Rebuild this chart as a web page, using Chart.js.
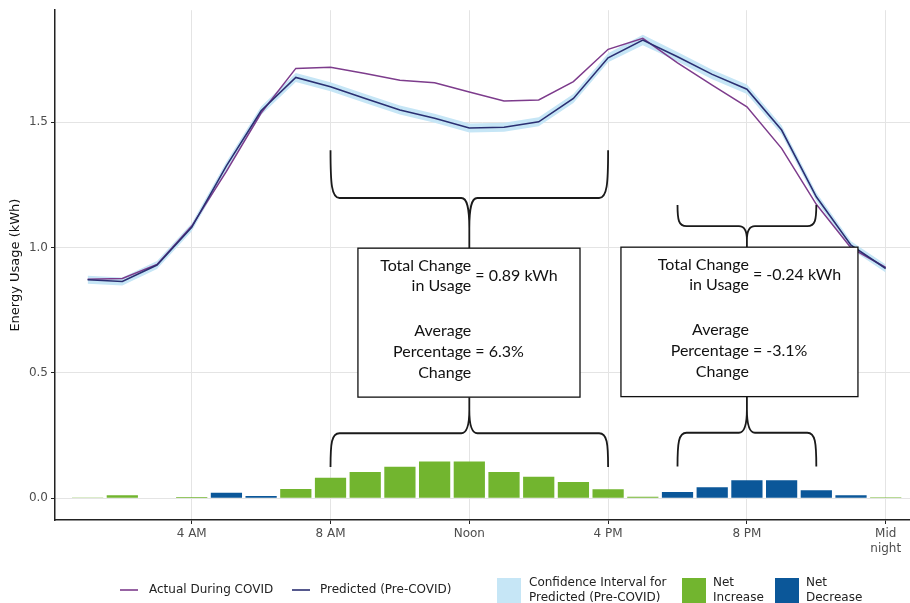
<!DOCTYPE html>
<html>
<head>
<meta charset="utf-8">
<script src="https://cdn.jsdelivr.net/npm/chart.js"></script>
<style>
    html, body { margin: 0; padding: 0; background: #fff; }
    canvas { display: block; }
</style>
</head>
<body>
<canvas id="chart" width="910" height="603"></canvas>
<script>
// hour of day (1 = 1 AM ... 24 = midnight)
const hours = [1, 2, 3, 4, 5, 6, 7, 8, 9, 10, 11, 12, 13, 14, 15, 16, 17, 18, 19, 20, 21, 22, 23, 24];

const actualUsage = [0.873, 0.876, 0.932, 1.085, 1.303, 1.536, 1.714, 1.718, 1.694, 1.667, 1.657, 1.620,
                     1.584, 1.588, 1.661, 1.790, 1.834, 1.736, 1.647, 1.561, 1.395, 1.172, 0.998, 0.920];
const predictedUsage = [0.871, 0.864, 0.930, 1.080, 1.325, 1.545, 1.678, 1.641, 1.594, 1.548, 1.515, 1.476,
                        1.479, 1.501, 1.594, 1.756, 1.827, 1.760, 1.690, 1.631, 1.468, 1.202, 1.009, 0.916];
const ciLower = [0.855, 0.848, 0.914, 1.064, 1.308, 1.528, 1.660, 1.623, 1.576, 1.530, 1.497, 1.458,
                 1.461, 1.483, 1.576, 1.738, 1.806, 1.741, 1.671, 1.612, 1.450, 1.185, 0.993, 0.900];
const ciUpper = [0.887, 0.880, 0.946, 1.096, 1.342, 1.562, 1.696, 1.659, 1.612, 1.566, 1.533, 1.494,
                 1.497, 1.519, 1.612, 1.774, 1.848, 1.779, 1.709, 1.650, 1.486, 1.219, 1.025, 0.932];
// actual minus predicted; positive = net increase
const netChange = [0.003, 0.012, 0.002, 0.005, -0.022, -0.009, 0.037, 0.081, 0.104, 0.125, 0.146, 0.146,
                   0.104, 0.085, 0.065, 0.036, 0.006, -0.025, -0.044, -0.072, -0.072, -0.032, -0.012, 0.004];

const xTickValues = [4, 8, 12, 16, 20, 24];
const xTickLabels = ['4 AM', '8 AM', 'Noon', '4 PM', '8 PM', ['Mid', 'night']];
const yTickValues = [0, 0.5, 1.0, 1.5];

// summary callouts: hour span and the texts
const spanStart = [8, 18];
const spanEnd = [16, 22];
const totalText = ['= 0.89 kWh', '= -0.24 kWh'];
const pctText = ['= 6.3%', '= -3.1%'];

const COLORS = {
    actual: '#7d3c8c',
    predicted: '#2b2f72',
    ci: '#c6e6f6',
    increase: '#72b52f',
    decrease: '#0b5799',
    grid: '#e4e4e4',
    axis: '#222222',
    tickText: '#4d4d4d'
};

// callout layout (data units)
const calloutLayout = [
    { boxX: [8.79, 15.19], boxY: [0.997, 0.403], upEnd: 1.388, upBar: 1.197, lowEnd: 0.124, lowBar: 0.259 },
    { boxX: [16.37, 23.20], boxY: [1.001, 0.405], upEnd: 1.169, upBar: 1.085, lowEnd: 0.126, lowBar: 0.261 }
];

const pts = arr => hours.map((h, i) => ({ x: h, y: arr[i] }));

function drawBrace(ctx, x1, x2, xc, yEnd, yBar, yTip) {
    const d = Math.sign(yTip - yBar);
    const r = Math.min(9, Math.abs(yBar - yEnd) * 0.5);
    const c = Math.min(30, Math.abs(yTip - yBar) * 0.65);
    const w = 8;
    ctx.beginPath();
    ctx.moveTo(x1, yEnd);
    ctx.bezierCurveTo(x1, yEnd + (yBar - yEnd) * 0.7, x1 + 1, yBar, x1 + r, yBar);
    ctx.lineTo(xc - w, yBar);
    ctx.bezierCurveTo(xc - 2, yBar, xc, yBar + d * c * 0.35, xc, yBar + d * c);
    ctx.lineTo(xc, yTip);
    ctx.moveTo(x2, yEnd);
    ctx.bezierCurveTo(x2, yEnd + (yBar - yEnd) * 0.7, x2 - 1, yBar, x2 - r, yBar);
    ctx.lineTo(xc + w, yBar);
    ctx.bezierCurveTo(xc + 2, yBar, xc, yBar + d * c * 0.35, xc, yBar + d * c);
    ctx.stroke();
}

const calloutPlugin = {
    id: 'callouts',
    afterDatasetsDraw(chart) {
        const ctx = chart.ctx;
        const xs = chart.scales.x, ys = chart.scales.y;
        ctx.save();
        calloutLayout.forEach((c, i) => {
            const x1 = xs.getPixelForValue(spanStart[i]);
            const x2 = xs.getPixelForValue(spanEnd[i]);
            const xc = (x1 + x2) / 2;
            const bx1 = xs.getPixelForValue(c.boxX[0]), bx2 = xs.getPixelForValue(c.boxX[1]);
            const by1 = ys.getPixelForValue(c.boxY[0]), by2 = ys.getPixelForValue(c.boxY[1]);

            ctx.strokeStyle = '#1a1a1a';
            ctx.lineWidth = 1.8;
            drawBrace(ctx, x1, x2, xc, ys.getPixelForValue(c.upEnd), ys.getPixelForValue(c.upBar), by1);
            drawBrace(ctx, x1, x2, xc, ys.getPixelForValue(c.lowEnd), ys.getPixelForValue(c.lowBar), by2);

            ctx.fillStyle = '#fff';
            ctx.fillRect(bx1, by1, bx2 - bx1, by2 - by1);
            ctx.lineWidth = 1.3;
            ctx.strokeStyle = '#111';
            ctx.strokeRect(bx1, by1, bx2 - bx1, by2 - by1);

            ctx.fillStyle = '#111';
            ctx.font = '16px Lato';
            ctx.textBaseline = 'middle';
            const xr = xc + 2, xl = xc + 6;
            ctx.textAlign = 'right';
            ctx.fillText('Total Change', xr, by1 + 18);
            ctx.fillText('in Usage', xr, by1 + 38);
            ctx.fillText('Average', xr, by1 + 83);
            ctx.fillText('Percentage', xr, by1 + 104);
            ctx.fillText('Change', xr, by1 + 125);
            ctx.textAlign = 'left';
            ctx.fillText(totalText[i], xl, by1 + 28);
            ctx.fillText(pctText[i], xl, by1 + 104);
        });
        ctx.restore();
    }
};

const legendPlugin = {
    id: 'bottomLegend',
    afterDraw(chart) {
        const ctx = chart.ctx;
        ctx.save();
        ctx.font = '12px "DejaVu Sans"';
        ctx.fillStyle = '#222';
        ctx.textBaseline = 'middle';
        ctx.textAlign = 'left';
        ctx.lineWidth = 1.6;

        ctx.strokeStyle = COLORS.actual;
        ctx.beginPath(); ctx.moveTo(120, 590); ctx.lineTo(138, 590); ctx.stroke();
        ctx.fillText('Actual During COVID', 149, 590);

        ctx.strokeStyle = COLORS.predicted;
        ctx.beginPath(); ctx.moveTo(292, 590); ctx.lineTo(310, 590); ctx.stroke();
        ctx.fillText('Predicted (Pre-COVID)', 320, 590);

        ctx.fillStyle = COLORS.ci;
        ctx.fillRect(497, 578, 24, 25);
        ctx.fillStyle = '#222';
        ctx.fillText('Confidence Interval for', 529, 583);
        ctx.fillText('Predicted (Pre-COVID)', 529, 598);

        ctx.fillStyle = COLORS.increase;
        ctx.fillRect(682, 578, 24, 25);
        ctx.fillStyle = '#222';
        ctx.fillText('Net', 713, 583);
        ctx.fillText('Increase', 713, 598);

        ctx.fillStyle = COLORS.decrease;
        ctx.fillRect(775, 578, 24, 25);
        ctx.fillStyle = '#222';
        ctx.fillText('Net', 806, 583);
        ctx.fillText('Decrease', 806, 598);
        ctx.restore();
    }
};

new Chart(document.getElementById('chart'), {
    type: 'line',
    data: {
        datasets: [
            {
                type: 'bar',
                label: 'Net change',
                data: hours.map((h, i) => ({ x: h, y: Math.abs(netChange[i]) })),
                backgroundColor: netChange.map(v => v >= 0 ? COLORS.increase : COLORS.decrease),
                borderWidth: 0,
                barPercentage: 0.9,
                categoryPercentage: 1.0,
                grouped: false,
                order: 5
            },
            {
                label: 'CI lower',
                data: pts(ciLower),
                borderWidth: 0,
                pointRadius: 0,
                fill: false,
                order: 4
            },
            {
                label: 'CI upper',
                data: pts(ciUpper),
                borderWidth: 0,
                pointRadius: 0,
                backgroundColor: COLORS.ci,
                fill: '-1',
                order: 3
            },
            {
                label: 'Actual During COVID',
                data: pts(actualUsage),
                borderColor: COLORS.actual,
                borderWidth: 1.5,
                pointRadius: 0,
                tension: 0,
                order: 2
            },
            {
                label: 'Predicted (Pre-COVID)',
                data: pts(predictedUsage),
                borderColor: COLORS.predicted,
                borderWidth: 1.6,
                pointRadius: 0,
                tension: 0,
                order: 1
            }
        ]
    },
    options: {
        responsive: false,
        animation: false,
        layout: { padding: { top: 10, right: 0, left: 0, bottom: 0 } },
        plugins: {
            legend: { display: false },
            tooltip: { enabled: false }
        },
        scales: {
            x: {
                type: 'linear',
                min: 0.06,
                max: 24.7,
                offset: false,
                afterBuildTicks: scale => { scale.ticks = xTickValues.map(v => ({ value: v })); },
                afterFit: scale => { scale.height = 83; },
                ticks: {
                    autoSkip: false,
                    maxRotation: 0,
                    padding: 3,
                    color: COLORS.tickText,
                    font: { family: 'DejaVu Sans', size: 12 },
                    callback: (v, i) => xTickLabels[i]
                },
                grid: { color: COLORS.grid, tickColor: COLORS.axis, tickLength: 4, offset: false },
                border: { color: COLORS.axis, width: 1.5 }
            },
            y: {
                min: -0.087,
                max: 1.946,
                afterBuildTicks: scale => { scale.ticks = yTickValues.map(v => ({ value: v })); },
                afterFit: scale => { scale.width = 55; },
                ticks: {
                    padding: 3,
                    color: COLORS.tickText,
                    font: { family: 'DejaVu Sans', size: 12 },
                    callback: v => v.toFixed(1)
                },
                title: {
                    display: true,
                    text: 'Energy Usage (kWh)',
                    color: '#111',
                    font: { family: 'DejaVu Sans', size: 13 },
                    padding: { top: 8, bottom: 0 }
                },
                grid: { color: COLORS.grid, tickColor: COLORS.axis, tickLength: 4 },
                border: { color: COLORS.axis, width: 1.5 }
            }
        }
    },
    plugins: [calloutPlugin, legendPlugin]
});
</script>
</body>
</html>
